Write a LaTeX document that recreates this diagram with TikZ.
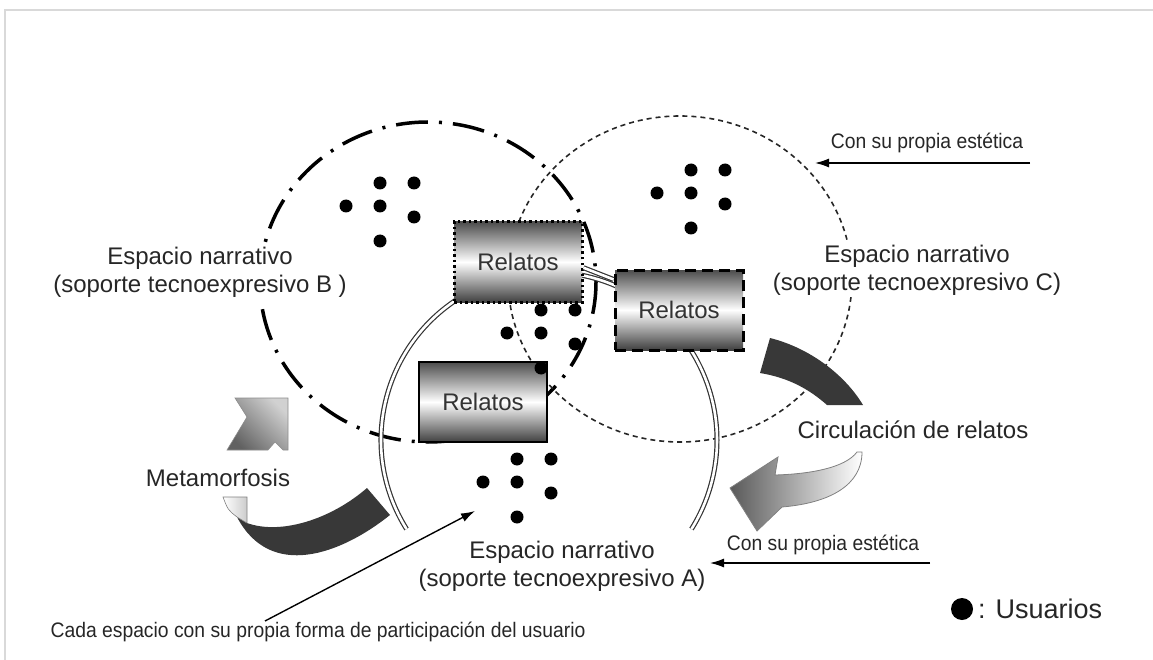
\documentclass[tikz,border=0pt]{standalone}
\usepackage{fontspec}
\setmainfont{Liberation Sans}
\newfontfamily\narrowfont[FakeStretch=0.92]{Liberation Sans}
\usepackage{tikz}
\usetikzlibrary{arrows.meta,calc}

\begin{document}
\begin{tikzpicture}[x=1pt,y=1pt,yscale=-1,
  espacio/.style={font=\fontsize{24}{28}\selectfont,text=black!85,align=center,inner sep=2pt,fill=white},
  nota/.style={font=\narrowfont\fontsize{21}{24}\selectfont,text=black!85,inner sep=0pt},
  relato/.style={draw=black,line width=2.5pt,minimum width=128pt,minimum height=80pt,
                 top color=black!70,bottom color=black!75,middle color=white,
                 font=\fontsize{24}{28}\selectfont,text=black!80},
  usuario/.style={circle,fill=black,inner sep=0pt,minimum size=13pt},
  arr/.style={-{Latex[length=14pt,width=9pt]},line width=1.4pt,draw=black},
  espacioB/.style={draw=black,line width=3.5pt,dash pattern=on 32pt off 11pt on 3pt off 11pt},
  espacioC/.style={draw=black!85,line width=1.6pt,dash pattern=on 5pt off 4pt},
  espacioA/.style={draw=black!80,line width=1.2pt,double=white,double distance=2.6pt},
  marco/.style={draw=black!15,line width=1.5pt}
]
\useasboundingbox (0,0) rectangle (1153,660);
\draw[marco] (5,660) -- (5,10) -- (1153,10);

\draw[espacioB] (428,282) circle[x radius=168,y radius=160];
\draw[espacioC] (680,279) circle[x radius=172,y radius=163];
\draw[espacioA] ($(549,440)+(148:168)$) arc[start angle=148,end angle=392,radius=168];

\fill[black!78] (367,488) -- (390,515) .. controls (340,555) and (270,580) .. (237,517)
  -- (247,523) .. controls (280,535) and (330,520) .. (367,488) -- cycle;
\shade[left color=white,right color=black!20,draw=black!50,line width=0.6pt]
  (223,497) -- (247,497) -- (247,523) -- (237,517) .. controls (228,510) .. (223,497) -- cycle;
\shade[top color=black!62,bottom color=black!18,shading angle=135,draw=black!45,line width=0.6pt]
  (235,398) -- (288,398) -- (288,450) -- (283,450) -- (275,442) -- (268,450) -- (227,450) -- (247,417) -- cycle;

\fill[black!78] (770,338) .. controls (810,348) and (845,375) .. (863,405) -- (827,405)
  .. controls (810,390) and (790,378) .. (760,373) -- cycle;
\shade[left color=black!65,right color=white,draw=black!50,line width=0.8pt]
  (730,488) -- (778,457) -- (775,475) .. controls (810,474) and (845,468) .. (857,452)
  -- (862,452) .. controls (862,485) and (830,503) .. (782,507) -- (757,531) -- cycle;

\node[relato,line width=3pt,dash pattern=on 2.5pt off 3pt] (relTop) at (518,262) {Relatos};
\node[relato,line width=3pt,dash pattern=on 11pt off 6pt] (relC) at (679,310) {Relatos};
\node[relato] (relA) at (483,402) {Relatos};
\draw[espacioA] (relTop.-5) -- (relC.155);

\foreach \g/\cx/\cy in {B/380/206,C/691/193,A/517/482,M/541/333}
  \foreach \i/\dx/\dy in {1/0/-23,2/34/-23,3/-34/0,4/0/0,5/34/11,6/0/35}
    \node[usuario] (u\g\i) at ({\cx+(\dx)},{\cy+(\dy)}) {};

\node[espacio] (txtB) at (200,272) {Espacio narrativo\\(soporte tecnoexpresivo B )};
\node[espacio] (txtC) at (917,270) {Espacio narrativo\\(soporte tecnoexpresivo C)};
\node[espacio] (txtA) at (562,566) {Espacio narrativo\\(soporte tecnoexpresivo A)};
\node[espacio] (txtMeta) at (218,478) {Metamorfosis};
\node[espacio] (txtCirc) at (913,430) {Circulación de relatos};

\node[nota] (estTop) at (927,143) {Con su propia estética};
\coordinate (estTopR) at (1030,163);
\coordinate (estTopL) at (815,163);
\draw[arr] (estTopR) -- (estTopL);
\node[nota] (estBot) at (823,545) {Con su propia estética};
\coordinate (estBotR) at (930,563);
\coordinate (estBotL) at (710,563);
\draw[arr] (estBotR) -- (estBotL);

\node[nota] (cada) at (318,632) {Cada espacio con su propia forma de participación del usuario};
\coordinate (cadaIni) at (265,621);
\coordinate (cadaFin) at (475,511);
\draw[arr] (cadaIni) -- (cadaFin);

\node[usuario,minimum size=22pt] (leyDot) at (962,609) {};
\node[espacio,anchor=west,font=\fontsize{27}{30}\selectfont] (leyTxt) at (976,609) {: Usuarios};
\end{tikzpicture}
\end{document}
